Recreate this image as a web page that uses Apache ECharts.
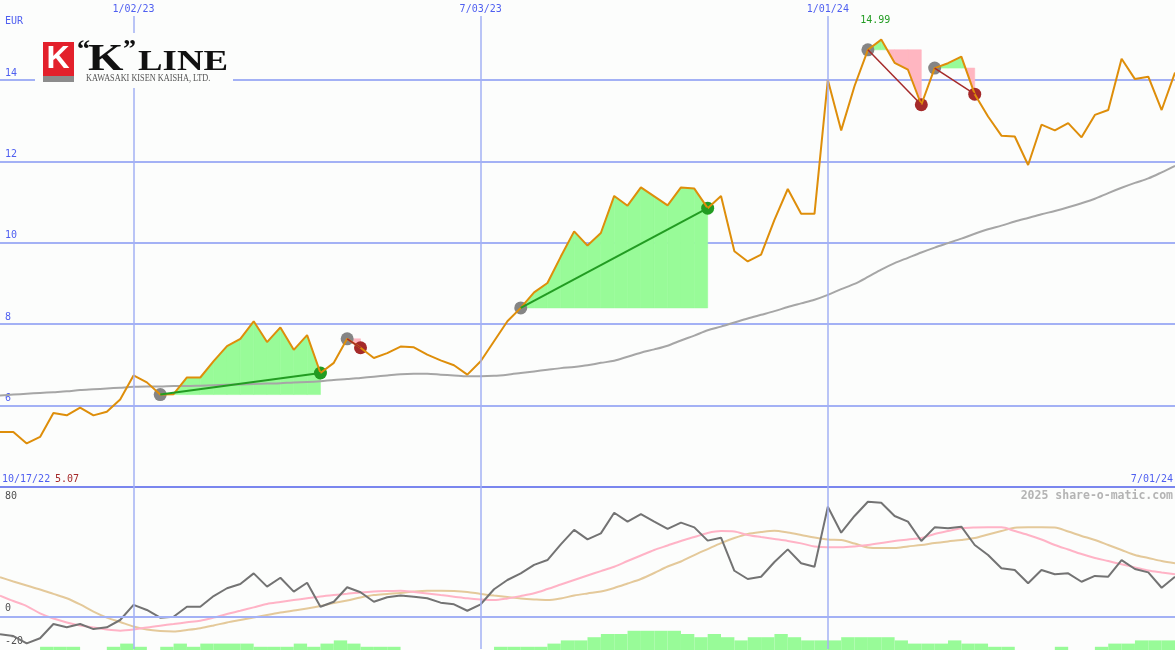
<!DOCTYPE html>
<html>
<head>
<meta charset="utf-8">
<script src="https://cdn.jsdelivr.net/npm/echarts@6/dist/echarts.min.js"></script>
<style>
html, body { margin: 0; padding: 0; background: #fcfdfc; }
#chart { width: 1175px; height: 650px; }
</style>
</head>
<body>
<div id="chart"></div>
<script>
// weekly closes (EUR), one point per week
const price = [5.35, 5.35, 5.07, 5.23, 5.82, 5.76, 5.95, 5.76, 5.85, 6.15,
  6.74, 6.57, 6.27, 6.28, 6.69, 6.69, 7.09, 7.46, 7.64, 8.07,
  7.56, 7.92, 7.37, 7.73, 6.80, 7.05, 7.64, 7.42, 7.17, 7.29,
  7.45, 7.43, 7.25, 7.11, 6.99, 6.76, 7.09, 7.58, 8.07, 8.40,
  8.78, 9.01, 9.66, 10.28, 9.93, 10.24, 11.15, 10.91, 11.36, 11.14,
  10.92, 11.36, 11.33, 10.85, 11.15, 9.79, 9.54, 9.71, 10.56, 11.32,
  10.71, 10.71, 14.00, 12.76, 13.85, 14.74, 14.99, 14.42, 14.25, 13.39,
  14.29, 14.41, 14.57, 13.65, 13.10, 12.63, 12.61, 11.91, 12.90, 12.76,
  12.94, 12.59, 13.14, 13.26, 14.52, 14.02, 14.08, 13.26, 14.18]
// long moving average (grey)
const avgLine = [6.25, 6.27, 6.29, 6.31, 6.33, 6.35, 6.38, 6.40, 6.42, 6.44,
  6.46, 6.47, 6.47, 6.48, 6.48, 6.49, 6.50, 6.51, 6.52, 6.53,
  6.54, 6.55, 6.57, 6.58, 6.60, 6.63, 6.65, 6.68, 6.71, 6.74,
  6.77, 6.78, 6.78, 6.76, 6.74, 6.72, 6.72, 6.73, 6.76, 6.80,
  6.84, 6.88, 6.92, 6.95, 6.99, 7.05, 7.10, 7.20, 7.30, 7.38,
  7.47, 7.60, 7.72, 7.85, 7.94, 8.04, 8.14, 8.23, 8.32, 8.42,
  8.51, 8.60, 8.72, 8.86, 8.99, 9.16, 9.34, 9.50, 9.63, 9.76,
  9.88, 9.99, 10.10, 10.22, 10.33, 10.42, 10.52, 10.61, 10.70, 10.78,
  10.87, 10.97, 11.08, 11.22, 11.35, 11.47, 11.58, 11.73, 11.89]
// lower panel
const momentum = [-10.9, -12.0, -16.5, -13.4, -4.6, -6.6, -4.6, -7.7, -6.6, -2.1,
  7.2, 4.1, -0.7, -0.1, 6.1, 6.1, 12.7, 17.5, 20.1, 26.7,
  18.5, 24.0, 15.4, 20.9, 6.1, 9.2, 18.1, 15.0, 9.2, 11.9,
  13.0, 12.3, 11.3, 8.6, 7.6, 3.6, 7.6, 16.9, 22.6, 26.7,
  31.9, 34.9, 44.6, 53.5, 47.7, 51.4, 64.1, 58.6, 63.3, 58.6,
  54.1, 58.0, 55.1, 46.9, 48.7, 28.3, 23.2, 24.6, 33.7, 41.5,
  32.9, 30.8, 67.8, 51.8, 62.1, 70.9, 70.3, 62.1, 58.6, 46.7,
  55.1, 54.5, 55.5, 44.2, 38.0, 29.8, 28.8, 20.6, 28.8, 26.1,
  26.7, 21.5, 25.1, 24.6, 34.9, 29.4, 27.3, 17.8, 24.6]
const signalFast = [12.9, 9.6, 6.5, 2.0, -1.2, -3.6, -5.5, -6.7, -8.0, -8.7,
  -8.0, -6.7, -5.6, -4.6, -3.5, -2.5, -0.6, 1.6, 3.6, 5.7,
  7.8, 9.0, 10.2, 11.3, 12.4, 13.3, 14.1, 14.9, 15.5, 15.8,
  16.0, 15.2, 14.3, 13.3, 12.3, 11.3, 10.6, 10.2, 11.2, 12.7,
  14.4, 17.0, 19.8, 22.6, 25.4, 28.1, 30.8, 34.3, 37.7, 41.1,
  43.9, 46.7, 49.1, 51.6, 52.8, 52.5, 50.4, 49.1, 47.9, 46.7,
  45.2, 43.3, 42.8, 42.8, 43.3, 44.2, 45.4, 46.7, 47.6, 48.5,
  51.0, 52.8, 54.5, 55.0, 55.1, 55.1, 52.8, 50.4, 47.6, 44.2,
  41.4, 38.6, 36.2, 34.3, 32.3, 30.4, 28.4, 27.2, 26.1]
const signalSlow = [24.3, 21.7, 19.2, 16.7, 14.0, 11.3, 7.5, 3.1, -0.6, -3.3,
  -6.1, -8.0, -8.9, -9.2, -8.3, -7.2, -5.5, -3.6, -2.1, -0.6,
  1.0, 2.5, 3.8, 5.0, 6.5, 8.4, 9.9, 11.8, 13.3, 14.0,
  14.6, 15.5, 16.0, 16.0, 15.8, 15.2, 14.0, 13.0, 12.1, 11.2,
  10.6, 10.2, 11.2, 13.0, 14.3, 15.5, 17.7, 20.4, 23.2, 26.9,
  30.9, 34.0, 38.0, 41.7, 45.4, 48.5, 51.0, 52.2, 53.0, 51.9,
  50.4, 48.8, 47.6, 47.3, 45.1, 42.7, 42.3, 42.3, 43.3, 44.2,
  45.4, 46.4, 47.3, 48.5, 50.7, 52.8, 54.9, 55.1, 55.1, 55.0,
  52.5, 49.8, 47.3, 44.2, 41.1, 38.0, 36.2, 34.3, 32.9]
// volume steps, one per week interval
const volumeLevel = [0, 0, 0, 1, 1, 1, 0, 0, 1, 2,
  1, 0, 1, 2, 1, 2, 2, 2, 2, 1,
  1, 1, 2, 1, 2, 3, 2, 1, 1, 1,
  0, 0, 0, 0, 0, 0, 0, 1, 1, 1,
  1, 2, 3, 3, 4, 5, 5, 6, 6, 6,
  6, 5, 4, 5, 4, 3, 4, 4, 5, 4,
  3, 3, 3, 4, 4, 4, 4, 3, 2, 2,
  2, 3, 2, 2, 1, 1, 0, 0, 0, 1,
  0, 0, 1, 2, 2, 3, 3, 3]
// trend signals: [start week, end week]
const trendSpans = [[12, 24], [26, 27], [39, 53], [65, 69], [70, 73]]
const dateTickIdx = [10, 36, 62]
const dateTickLabels = ['1/02/23', '7/03/23', '1/01/24']
const firstDate = '10/17/22'
const lastDate = '7/01/24'
const currency = 'EUR'

const BG = '#fcfdfc'
const GRID = '#a3b1f5'
const SEP = '#7a86ee'
const BLUE_TXT = '#4f5ff0'
const ORANGE = '#de8e0a'
const GREEN_FILL = '#98fb98'
const PINK_FILL = '#ffb6c1'
const GREEN_DARK = '#229c22'
const RED_DARK = '#a52a2a'
const MONO = '"DejaVu Sans Mono", monospace'

const xy = arr => arr.map((v, i) => [i, v])

const fillData = []
trendSpans.forEach(([s, e]) => {
	const base = price[s]
	for (let i = s; i < e; i++) fillData.push([i, price[i], price[i + 1], base])
})

function renderFill(params, api) {
	const i = api.value(0), a = api.value(1), b = api.value(2), base = api.value(3)
	const parts = []
	if ((a - base) * (b - base) < 0) {
		const xm = i + (base - a) / (b - a)
		parts.push([[[i, base], [i, a], [xm, base]], a > base])
		parts.push([[[xm, base], [i + 1, b], [i + 1, base]], b > base])
	} else {
		parts.push([[[i, base], [i, a], [i + 1, b], [i + 1, base]], a + b >= 2 * base])
	}
	return {
		type: 'group',
		children: parts.map(([pts, up]) => ({
			type: 'polygon',
			shape: { points: pts.map(p => api.coord(p)) },
			style: { fill: up ? GREEN_FILL : PINK_FILL, stroke: up ? GREEN_FILL : PINK_FILL, lineWidth: 0.6 }
		}))
	}
}

const dotData = []
const linkSeries = []
trendSpans.forEach(([s, e]) => {
	const up = price[e] >= price[s]
	dotData.push({ value: [s, price[s]], itemStyle: { color: '#858585' } })
	dotData.push({ value: [e, price[e]], itemStyle: { color: up ? GREEN_DARK : RED_DARK } })
	linkSeries.push({
		type: 'line', xAxisIndex: 0, yAxisIndex: 0, z: 4, silent: true,
		data: [[s, price[s]], [e, price[e]]], symbol: 'none',
		lineStyle: { color: up ? GREEN_DARK : RED_DARK, width: up ? 2 : 1.5 }
	})
})

const chart = echarts.init(document.getElementById('chart'))
chart.setOption({
	animation: false,
	backgroundColor: BG,
	grid: [
		{ left: 0, right: 0, top: 16, height: 471 },
		{ left: 0, right: 0, top: 487, height: 162 },
		{ left: 0, right: 0, bottom: 0, height: 19.2 }
	],
	xAxis: [
		{
			gridIndex: 0, type: 'value', min: 0, max: price.length - 1, position: 'bottom',
			axisLine: { show: true, onZero: false, lineStyle: { color: SEP, width: 2 } },
			axisTick: { show: false }, axisLabel: { show: false }, splitLine: { show: false }
		},
		{
			gridIndex: 1, type: 'value', min: 0, max: price.length - 1,
			axisLine: { show: false }, axisTick: { show: false }, axisLabel: { show: false }, splitLine: { show: false }
		},
		{
			gridIndex: 2, type: 'category', data: volumeLevel.map((v, i) => i), boundaryGap: true,
			axisLine: { show: false }, axisTick: { show: false }, axisLabel: { show: false }, splitLine: { show: false }
		}
	],
	yAxis: [
		{
			gridIndex: 0, type: 'value', min: 4, max: 15.57, interval: 2, position: 'left',
			axisLine: { show: false }, axisTick: { show: false },
			splitLine: { show: true, showMinLine: false, showMaxLine: false, lineStyle: { color: GRID, width: 2 } },
			axisLabel: {
				inside: true, margin: 5, color: BLUE_TXT, fontFamily: MONO, fontSize: 10,
				verticalAlign: 'bottom', padding: [0, 0, 2, 0], showMinLabel: false, showMaxLabel: false
			}
		},
		{
			gridIndex: 1, type: 'value', min: -20, max: 80, interval: 20, position: 'left',
			axisLine: { show: false }, axisTick: { show: false }, splitLine: { show: false },
			axisLabel: {
				inside: true, margin: 5, color: '#505050', fontFamily: MONO, fontSize: 10,
				verticalAlign: 'bottom', padding: [0, 0, 3, 0],
				formatter: v => (v === 0 || v === -20) ? String(v) : ''
			}
		},
		{
			gridIndex: 1, type: 'value', min: -20, max: 80, interval: 20, position: 'left',
			axisLine: { show: false }, axisTick: { show: false }, splitLine: { show: false },
			axisLabel: {
				inside: true, margin: 5, color: '#505050', fontFamily: MONO, fontSize: 10,
				verticalAlign: 'top', padding: [4, 0, 0, 0],
				formatter: v => v === 80 ? '80' : ''
			}
		},
		{
			gridIndex: 2, type: 'value', min: 0, max: 6, show: false
		}
	],
	series: [
		{
			type: 'custom', xAxisIndex: 0, yAxisIndex: 0, z: 1, silent: true,
			data: fillData, renderItem: renderFill, encode: { x: 0, y: [1, 2, 3] }
		},
		{
			type: 'line', xAxisIndex: 0, yAxisIndex: 0, z: 2, silent: true,
			data: xy(avgLine), symbol: 'none', smooth: 0.3,
			lineStyle: { color: '#a6a6a6', width: 2 },
			markLine: {
				silent: true, symbol: 'none',
				lineStyle: { color: GRID, width: 1.5, type: 'solid' },
				label: { show: true, position: 'end', distance: 2, formatter: '{b}', color: BLUE_TXT, fontFamily: MONO, fontSize: 10 },
				data: dateTickIdx.map((d, k) => ({ xAxis: d, name: dateTickLabels[k] }))
			}
		},
		{
			type: 'scatter', xAxisIndex: 0, yAxisIndex: 0, z: 2, silent: true,
			data: dotData, symbolSize: 13, itemStyle: { opacity: 1 }
		},
		{
			type: 'line', xAxisIndex: 0, yAxisIndex: 0, z: 3, silent: true,
			data: xy(price), symbol: 'none',
			lineStyle: { color: ORANGE, width: 2 }
		},
		...linkSeries,
		{
			type: 'bar', xAxisIndex: 2, yAxisIndex: 3, z: 1, silent: true,
			data: volumeLevel, barCategoryGap: '0%', barGap: '0%',
			itemStyle: { color: GREEN_FILL }
		},
		{
			type: 'line', xAxisIndex: 1, yAxisIndex: 1, z: 2, silent: true,
			data: xy(signalSlow), symbol: 'none', smooth: 0.3,
			lineStyle: { color: '#e4c99a', width: 2 },
			markLine: {
				silent: true, symbol: 'none', label: { show: false },
				lineStyle: { color: GRID, width: 1.5, type: 'solid' },
				data: [...dateTickIdx.map(d => ({ xAxis: d })), { yAxis: 0, lineStyle: { width: 2 } }]
			}
		},
		{
			type: 'line', xAxisIndex: 1, yAxisIndex: 1, z: 2, silent: true,
			data: xy(signalFast), symbol: 'none', smooth: 0.3,
			lineStyle: { color: '#ffb3c6', width: 2 }
		},
		{
			type: 'line', xAxisIndex: 1, yAxisIndex: 1, z: 3, silent: true,
			data: xy(momentum), symbol: 'none',
			lineStyle: { color: '#737373', width: 2 }
		}
	]
})

// texts placed from the chart's own scales
const maxVal = Math.max(...price)
const minVal = Math.min(...price)
const maxIdx = price.indexOf(maxVal)
const maxPx = chart.convertToPixel({ xAxisIndex: 0, yAxisIndex: 0 }, [maxIdx, maxVal])
const txt = (x, y, text, fill, extra) => ({
	type: 'text', x, y, z: 100, silent: true,
	style: Object.assign({ text, fill, font: '10px ' + MONO, verticalAlign: 'middle', align: 'left' }, extra || {})
})

chart.setOption({
	graphic: [
		txt(5, 21.5, currency, BLUE_TXT),
		txt(maxPx[0] - 6, 20, maxVal.toFixed(2), GREEN_DARK, { align: 'center' }),
		txt(2, 479, firstDate, BLUE_TXT),
		txt(55, 479, minVal.toFixed(2), RED_DARK),
		txt(1173, 479, lastDate, BLUE_TXT, { align: 'right' }),
		txt(1173, 496, '2025 share-o-matic.com', '#b4b4b4', { align: 'right', font: 'bold 11.5px ' + MONO }),
		// logo
		{ type: 'rect', z: 100, silent: true, shape: { x: 35, y: 33, width: 198, height: 55 }, style: { fill: BG } },
		{ type: 'rect', z: 101, silent: true, shape: { x: 43, y: 42, width: 31, height: 34 }, style: { fill: '#e3202b' } },
		{ type: 'rect', z: 101, silent: true, shape: { x: 43, y: 76, width: 31, height: 6 }, style: { fill: '#8c8c8c' } },
		{ type: 'text', z: 102, silent: true, x: 58, y: 59, style: { text: 'K', fill: '#fff', font: 'bold 32px "Liberation Sans"', align: 'center', verticalAlign: 'middle' } },
		{ type: 'text', z: 102, silent: true, x: 77, y: 50, style: { text: '\u201c', fill: '#111', font: 'bold 26px "Liberation Serif"', align: 'left', verticalAlign: 'middle' } },
		{ type: 'text', z: 102, silent: true, x: 88, y: 60, scaleX: 1.2, style: { text: 'K', fill: '#111', font: 'bold 38px "Liberation Serif"', align: 'left', verticalAlign: 'middle' } },
		{ type: 'text', z: 102, silent: true, x: 123, y: 50, style: { text: '\u201d', fill: '#111', font: 'bold 26px "Liberation Serif"', align: 'left', verticalAlign: 'middle' } },
		{ type: 'text', z: 102, silent: true, x: 138, y: 63, scaleX: 1.27, style: { text: 'LINE', fill: '#111', font: 'bold 29px "Liberation Serif"', align: 'left', verticalAlign: 'middle' } },
		{ type: 'text', z: 102, silent: true, x: 86, y: 78, scaleX: 0.75, style: { text: 'KAWASAKI KISEN KAISHA, LTD.', fill: '#555', font: '11px "Liberation Serif"', align: 'left', verticalAlign: 'middle' } }
	]
})

window.addEventListener('resize', () => {
	if (chart) chart.resize()
})
</script>
</body>
</html>
